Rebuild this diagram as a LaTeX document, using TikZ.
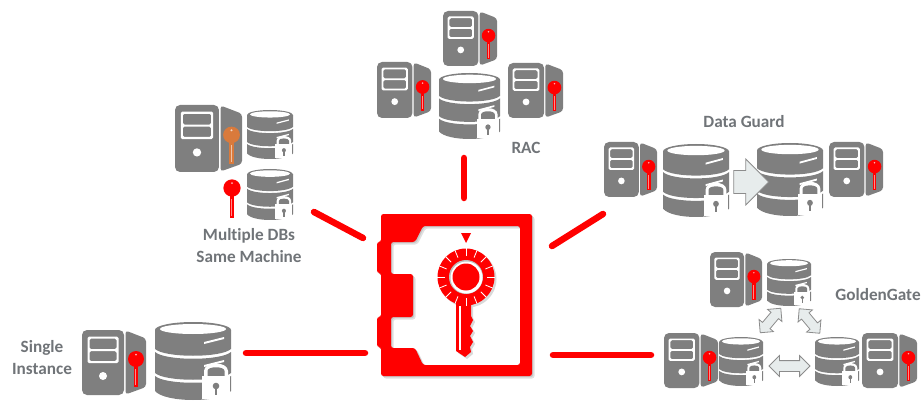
\documentclass[tikz,border=0pt]{standalone}
\usepackage{fontspec}
\setmainfont[Ligatures=NoCommon]{Carlito}
\usetikzlibrary{shapes.arrows}
\definecolor{safered}{RGB}{255,0,0}
\definecolor{dbgray}{RGB}{127,127,127}
\definecolor{keyorange}{RGB}{217,122,60}
\definecolor{labelgray}{RGB}{112,116,120}
\definecolor{flowfill}{RGB}{231,236,236}
\definecolor{flowline}{RGB}{140,140,140}
\tikzset{
	spoke/.style={draw=safered, line width=6.5pt, line cap=round},
	dblabel/.style={text=labelgray, font=\fontsize{17.2}{22}\selectfont\bfseries, align=center, inner sep=0pt},
	flowbase/.style={draw=flowline, fill=flowfill, line width=0.8pt, inner xsep=0pt, minimum height=#1, anchor=center},
	flowone/.style={flowbase=#1, single arrow, inner ysep=11pt, single arrow head extend=11.5pt},
	flowtwo/.style={flowbase=#1, double arrow, inner ysep=5pt, double arrow head extend=5pt},
	flowdiag/.style={flowbase=#1, double arrow, inner ysep=4.5pt, double arrow head extend=4.5pt},
}
\def\dbkey[#1](#2,#3)(#4){
	\begin{scope}[shift={(#2,#3)},scale=#4]
		\fill[#1] (0,0) circle (8);
		\fill[#1] (-2.2,0) rectangle (2.2,28);
		\fill[white!55!#1] (-0.9,10) rectangle (-0.1,26);
		\fill[white!70!#1] (0,-4.5) circle (1);
	\end{scope}
}
\def\dbserver(#1,#2)(#3,#4)[#5]{
	\begin{scope}[shift={(#1,#2)},xscale=#3/64,yscale=#4/65]
		\fill[dbgray, rounded corners=5] (0,0) rectangle (42,65);
		\fill[dbgray, rounded corners=3] (43.5,0.5) -- (64,8.5) -- (64,57) -- (43.5,64.5) -- cycle;
		\fill[white, even odd rule, rounded corners=1.5] (5.5,6.5) rectangle (36.5,33) (7.5,8.5) rectangle (34.5,19) (7.5,21) rectangle (34.5,31);
		\fill[white] (21,46) circle (4);
		\dbkey[#5](54,29)(1)
	\end{scope}
}
\def\dbstore(#1,#2)(#3,#4){
	\begin{scope}[shift={(#1,#2)},xscale=#3/76,yscale=#4/78]
		\fill[dbgray] (38,8) ellipse (38 and 8);
		\fill[dbgray] (0,8) -- (0,27) .. controls (10,36) and (66,36) .. (76,27) -- (76,8) -- cycle;
		\fill[dbgray] (0,30) .. controls (10,39) and (66,39) .. (76,30) -- (76,51) .. controls (66,60) and (10,60) .. (0,51) -- cycle;
		\fill[dbgray] (0,54) .. controls (10,63) and (66,63) .. (76,54) -- (76,69) .. controls (66,81) and (10,81) .. (0,69) -- cycle;
		\fill[white] (38,7) ellipse (33 and 5);
		\fill[white] (49,20) -- (69,15) -- (69,17) -- (49,22) -- cycle;
		\fill[white] (49,43) -- (69,38) -- (69,40) -- (49,45) -- cycle;
		\fill[white] (49,56) -- (49,49) .. controls (49,39) and (73,39) .. (73,49) -- (73,56) -- cycle;
		\fill[dbgray] (52.5,56) -- (52.5,49) .. controls (52.5,44) and (69.5,44) .. (69.5,49) -- (69.5,56) -- cycle;
		\fill[white] (47,54) rectangle (75,77);
		\fill[dbgray] (61,64) circle (3.3);
		\fill[dbgray] (60,65) rectangle (62,73);
	\end{scope}
}
\def\safeframe{(381,214) -- (532,214) -- (532,376) -- (381,376) -- (381,347) -- (377,347) -- (377,317) -- (381,317) -- (381,273) -- (377,273) -- (377,242) -- (381,242) -- cycle
	(423,226) -- (520,226) -- (520,365) -- (423,365) -- (415,348) -- (391,348) -- (391,317) -- (413,317) -- (413,274) -- (391,274) -- (391,242) -- (415,242) -- cycle}
\def\safekey{(456,298) -- (456,351) -- (465,357) -- (471,352) -- (470,347) -- (473,342) -- (470,336) -- (473,331) -- (470,326) -- (473,320) -- (471,316) -- (471,298) -- cycle}
\begin{document}
\begin{tikzpicture}[x=1pt,y=-1pt]
	\useasboundingbox (0,0) rectangle (924,401);

	\fill[black!12, even odd rule, rounded corners=2.5, shift={(2.5,2.5)}] \safeframe;
	\fill[black!22, even odd rule, rounded corners=2.5, shift={(1.2,1.2)}] \safeframe;
	\fill[safered, even odd rule, rounded corners=2.5] \safeframe;
	\fill[safered] (461,233) -- (471,233) -- (466,243) -- cycle;

	\fill[black!15, shift={(2,2)}] \safekey;
	\fill[black!15] (468,279) circle (28.5);
	\fill[safered] \safekey;
	\fill[white] (459.2,306) rectangle (460.8,350);
	\fill[safered] (466,277) circle (28.5);
	\foreach \tick in {0,22.5,...,337.5}
		\draw[white, line width=0.8pt] (466,277) ++(\tick:21) -- ++(\tick:7.8);
	\fill[black!25] (466,277) circle (17);
	\fill[white] (466.5,277.5) circle (16);
	\fill[safered] (466,277) circle (13.5);

	\dbserver(82,330)(64,65)[safered]
	\dbstore(155,322)(76,78)
	\node[dblabel] (single) at (42,358) {Single\\Instance};

	\dbserver(175,105)(67,67)[keyorange]
	\dbstore(247,110)(46,49)
	\dbkey[safered](232,188)(1.08)
	\dbstore(247,169)(46,51)
	\node[dblabel] (multiple) at (249,246) {Multiple DBs\\Same Machine};

	\dbserver(443,11)(54,55)[safered]
	\dbserver(377,62)(54,56)[safered]
	\dbserver(508,63)(55,55)[safered]
	\dbstore(439,73)(61,66)
	\node[dblabel] (rac) at (526,148) {RAC};

	\dbserver(604,142)(53,55)[safered]
	\dbstore(663,144)(66,73)
	\dbstore(757,143)(66,73)
	\dbserver(829,142)(54,55)[safered]
	\node[flowone=35pt] (standby) at (745.5,182) {};
	\node[dblabel] (guard) at (744,122) {Data Guard};

	\dbserver(710,252)(52,55)[safered]
	\dbstore(767,259)(44,47)
	\dbserver(664,333)(54,55)[safered]
	\dbstore(719,337)(44,49)
	\dbstore(815,337)(44,49)
	\dbserver(862,333)(55,55)[safered]
	\node[flowdiag=32pt, rotate=50] (replicleft) at (770.5,320.5) {};
	\node[flowdiag=32pt, rotate=-50] (replicright) at (809.5,321) {};
	\node[flowtwo=41pt] (replicbottom) at (789.5,366) {};
	\node[dblabel] (golden) at (878,295) {GoldenGate};

	\coordinate (spokeAin) at (365,353);
	\coordinate (spokeAout) at (246,353);
	\coordinate (spokeBin) at (363,238);
	\coordinate (spokeBout) at (314,212);
	\coordinate (spokeCin) at (464,198);
	\coordinate (spokeCout) at (464,158);
	\coordinate (spokeDin) at (552,246);
	\coordinate (spokeDout) at (603,214);
	\coordinate (spokeEin) at (553,355);
	\coordinate (spokeEout) at (651,355);
	\draw[spoke] (spokeAin) -- (spokeAout);
	\draw[spoke] (spokeBin) -- (spokeBout);
	\draw[spoke] (spokeCin) -- (spokeCout);
	\draw[spoke] (spokeDin) -- (spokeDout);
	\draw[spoke] (spokeEin) -- (spokeEout);
\end{tikzpicture}
\end{document}
